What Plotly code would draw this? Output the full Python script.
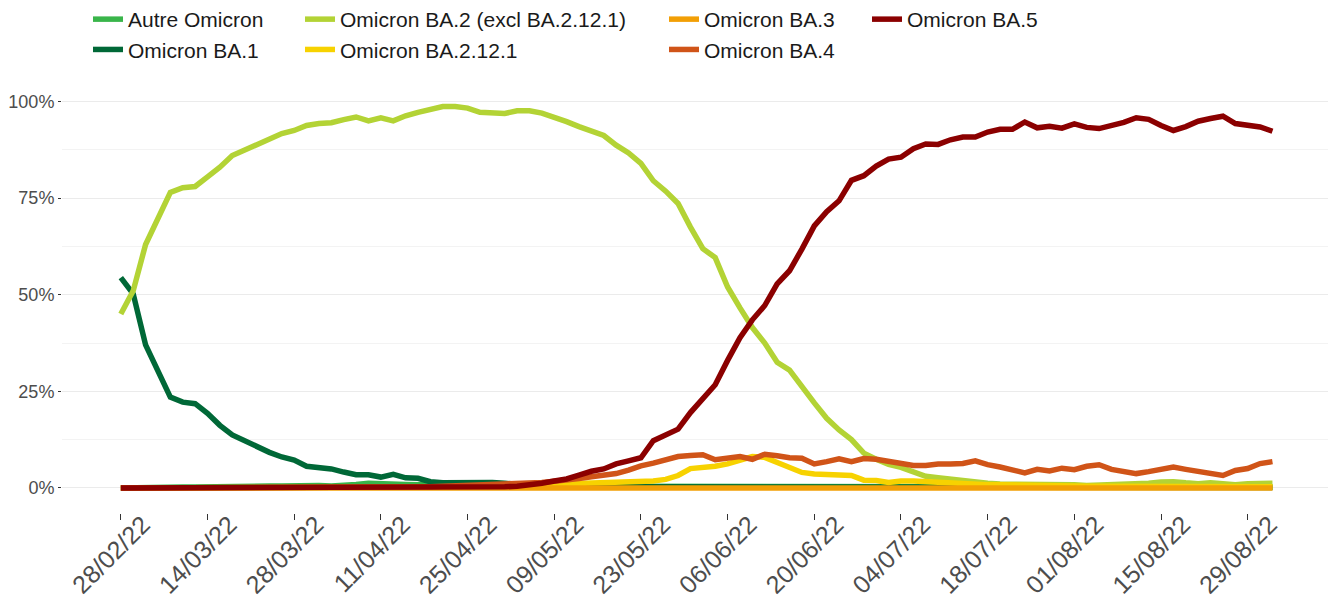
import pandas as pd
import plotly.graph_objects as go

# one value every 2 days, 28/02/22 -> 02/09/22 (share of sequences, %)
dates = pd.date_range("2022-02-28", "2022-09-02", freq="2D")

autre = [0, 0.1, 0.1, 0.1, 0.2, 0.2, 0.2, 0.3, 0.3, 0.3,
         0.4, 0.4, 0.5, 0.5, 0.6, 0.6, 0.6, 0.5, 0.6, 0.9,
         1.2, 1.2, 1.0, 0.9, 0.8, 0.7, 0.7, 0.8, 1.0, 1.0,
         0.9, 0.7, 0.6, 0.5, 0.4, 0.4, 0.4, 0.4, 0.4, 0.4,
         0.4, 0.4, 0.4, 0.4, 0.4, 0.4, 0.4, 0.4, 0.4, 0.4,
         0.4, 0.3, 0.3, 0.3, 0.3, 0.3, 0.3, 0.3, 0.3, 0.3,
         0.3, 0.3, 0.3, 0.3, 0.3, 0.3, 0.3, 0.3, 0.3, 0.3,
         0.3, 0.2, 0.2, 0.2, 0.2, 0.2, 0.2, 0.2, 0.2, 0.2,
         0.2, 0.2, 0.2, 0.2, 0.2, 0.2, 0.2, 0.2, 0.2, 0.2,
         0.2, 0.2, 0.2, 0.2]

ba1 = [54.4, 50.2, 37, 30, 23.5, 22.2, 21.8, 19.3, 16.2, 13.7,
       12.2, 10.6, 9.2, 8, 7.2, 5.6, 5.2, 4.9, 4.1, 3.4,
       3.4, 2.8, 3.5, 2.6, 2.5, 1.6, 1.3, 1.3, 1.3, 1.6,
       1.4, 1.2, 0.9, 0.7, 0.5, 0.4, 0.3, 0.3, 0.3, 0.3,
       0.3, 0.3, 0.3, 0.3, 0.3, 0.3, 0.3, 0.3, 0.3, 0.3,
       0.3, 0.3, 0.3, 0.3, 0.3, 0.3, 0.3, 0.3, 0.3, 0.3,
       0.2, 0.2, 0.2, 0.2, 0.2, 0.1, 0.1, 0.1, 0.1, 0.1,
       0.1, 0.1, 0.1, 0.1, 0.1, 0.1, 0.1, 0.1, 0.1, 0.1,
       0.1, 0.1, 0.1, 0.1, 0.1, 0.1, 0.1, 0.1, 0.1, 0.1,
       0.1, 0.1, 0.1, 0.1]

ba2 = [45, 51, 63, 70, 76.5, 77.7, 78, 80.5, 83, 86,
       87.5, 89, 90.5, 91.7, 92.5, 93.8, 94.3, 94.5, 95.3, 96,
       95, 95.8, 95, 96.3, 97.2, 97.9, 98.7, 98.7, 98.3, 97.2,
       97, 96.9, 97.6, 97.6, 97, 96, 94.8, 93.5, 92.5, 91.2,
       88.7, 86.7, 84, 79.5, 76.8, 73.6, 67.5, 61.9, 59.6, 52,
       46.6, 41.5, 37.5, 32.5, 30.5, 26, 22, 18, 15, 12.5,
       9, 7.4, 6.1, 5.3, 4.3, 3, 2.6, 2.2, 1.8, 1.5,
       1.2, 1, 1, 0.9, 0.8, 0.8, 0.7, 0.8, 0.6, 0.7,
       0.8, 0.8, 0.9, 1.2, 1.5, 1.6, 1.3, 1.1, 1.3, 1,
       0.8, 1.1, 1.3, 1.2]

ba2121 = [0, 0, 0, 0, 0, 0, 0, 0, 0, 0,
          0, 0, 0, 0, 0, 0, 0, 0, 0, 0,
          0, 0, 0, 0, 0, 0, 0, 0.1, 0.2, 0.3,
          0.4, 0.5, 0.6, 0.7, 0.9, 1.0, 1.2, 1.3, 1.4, 1.5,
          1.4, 1.8, 1.7, 1.8, 2.2, 3.2, 5.0, 5.2, 5.6, 6.2,
          7.2, 8.1, 7.9, 6.6, 5.0, 4.0, 3.6, 3.4, 3.5, 3.2,
          2.0, 1.9, 1.4, 1.8, 1.8, 1.6, 1.3, 1.2, 1.0, 0.9,
          0.8, 0.8, 0.7, 0.6, 0.6, 0.5, 0.4, 0.4, 0.4, 0.4,
          0.4, 0.3, 0.3, 0.3, 0.3, 0.3, 0.3, 0.3, 0.3, 0.3,
          0.3, 0.3, 0.3, 0.3]

ba3 = [0, 0, 0, 0, 0, 0, 0, 0, 0, 0,
       0, 0, 0, 0, 0, 0, 0, 0, 0, 0,
       0, 0, 0, 0, 0, 0, 0, 0, 0, 0,
       0, 0, 0, 0, 0, 0, 0, 0, 0, 0,
       0, 0, 0, 0, 0, 0, 0, 0, 0, 0,
       0, 0, 0, 0, 0, 0, 0, 0, 0, 0,
       0, 0, 0, 0, 0, 0, 0, 0, 0, 0,
       0, 0, 0, 0, 0, 0, 0, 0, 0, 0,
       0, 0, 0, 0, 0, 0, 0, 0, 0, 0,
       0, 0, 0, 0]

ba4 = [0, 0, 0, 0, 0, 0, 0, 0, 0, 0,
       0, 0, 0, 0, 0, 0, 0, 0, 0, 0,
       0, 0.1, 0.2, 0.2, 0.3, 0.3, 0.4, 0.5, 0.6, 0.6,
       0.7, 0.8, 0.9, 1.1, 1.4, 1.7, 1.9, 2.4, 2.9, 3.2,
       3.7, 4.6, 5.7, 6.4, 7.2, 8.1, 8.4, 8.6, 7.3, 7.6,
       8.1, 7.4, 8.7, 8.3, 7.8, 7.7, 6.2, 6.8, 7.5, 6.8,
       7.6, 7.4, 6.8, 6.5, 5.8, 5.8, 6.2, 6.2, 6.3, 7.0,
       6.0, 5.4, 4.8, 3.9, 4.8, 4.4, 5.1, 4.7, 5.6, 6.0,
       4.8, 4.3, 3.7, 4.2, 4.8, 5.4, 4.8, 4.2, 3.7, 3.2,
       4.5, 5.0, 6.3, 6.8]

ba5 = [0, 0, 0, 0, 0, 0, 0, 0, 0, 0,
       0, 0, 0, 0, 0, 0, 0, 0, 0, 0,
       0, 0, 0, 0, 0, 0, 0, 0, 0, 0.1,
       0.2, 0.3, 0.4, 0.7, 1.2, 1.8, 2.3, 3.3, 4.3, 4.9,
       6.2, 7.0, 7.8, 12.2, 13.8, 15.2, 19.5, 23.2, 26.7, 33,
       38.9, 43.5, 47.2, 52.8, 56.2, 61.8, 67.8, 71.5, 74.3, 79.6,
       80.8, 83.3, 85.1, 85.6, 87.8, 89.0, 88.9, 90.1, 90.8, 90.8,
       92.1, 92.8, 92.8, 94.7, 93.2, 93.6, 93.1, 94.2, 93.3, 93.0,
       93.8, 94.6, 95.8, 95.4, 93.8, 92.5, 93.5, 94.9, 95.6, 96.2,
       94.3, 93.8, 93.4, 92.3]

tick_dates = ["2022-02-28", "2022-03-14", "2022-03-28", "2022-04-11", "2022-04-25",
              "2022-05-09", "2022-05-23", "2022-06-06", "2022-06-20", "2022-07-04",
              "2022-07-18", "2022-08-01", "2022-08-15", "2022-08-29"]
tick_labels = ["28/02/22", "14/03/22", "28/03/22", "11/04/22", "25/04/22",
               "09/05/22", "23/05/22", "06/06/22", "20/06/22", "04/07/22",
               "18/07/22", "01/08/22", "15/08/22", "29/08/22"]
y_ticks = [0, 25, 50, 75, 100]
y_labels = ["0%", "25%", "50%", "75%", "100%"]

series = [
    ("Autre Omicron", autre, "#39B54A", "legend"),
    ("Omicron BA.1", ba1, "#006837", "legend"),
    ("Omicron BA.2 (excl BA.2.12.1)", ba2, "#B3D335", "legend2"),
    ("Omicron BA.2.12.1", ba2121, "#F7D200", "legend2"),
    ("Omicron BA.3", ba3, "#F29F05", "legend3"),
    ("Omicron BA.4", ba4, "#D05418", "legend3"),
    ("Omicron BA.5", ba5, "#8B0000", "legend4"),
]

fig = go.Figure()
for name, vals, col, leg in series:
    fig.add_trace(go.Scatter(x=dates, y=vals, name=name, mode="lines",
                             line=dict(color=col, width=5.5), legend=leg))

font = "Liberation Sans, Arial, sans-serif"
W, H = 1328, 591
L, R, T, B = 54, 6, 80, 86
plot_w = W - L - R
plot_h = H - T - B


def leg(xpx):
    # one legend column, placed in pixels above the plot area
    return dict(orientation="v", xref="paper", yref="paper",
                x=(xpx - L) / plot_w, y=1 + (T + 9) / plot_h,
                xanchor="left", yanchor="top",
                font=dict(family=font, size=21, color="#1A1A1A"),
                bgcolor="rgba(0,0,0,0)", tracegroupgap=0)


fig.update_layout(
    width=W, height=H,
    margin=dict(l=L, r=R, t=T, b=B, autoexpand=False),
    plot_bgcolor="white", paper_bgcolor="white",
    font=dict(family=font),
    legend=leg(80), legend2=leg(292), legend3=leg(656), legend4=leg(859),
    xaxis=dict(
        type="date",
        range=["2022-02-18 12:00", "2022-09-11 07:00"],
        tickvals=tick_dates, ticktext=tick_labels, tickangle=-45,
        tickfont=dict(size=25, color="#4D4D4D"),
        ticks="outside", ticklen=6, tickcolor="#333333", tickwidth=1,
        ticklabelshift=22, ticklabelstandoff=-20,
        showgrid=False, zeroline=False, showline=False,
    ),
    yaxis=dict(
        range=[-6.5, 103.5],
        tickvals=y_ticks, ticktext=y_labels,
        tickfont=dict(size=18, color="#4D4D4D"),
        ticks="outside", ticklen=3, tickcolor="#333333",
        showgrid=True, gridcolor="#EBEBEB", gridwidth=1.3,
        zeroline=False, showline=False,
        minor=dict(tickvals=[12.5, 37.5, 62.5, 87.5], showgrid=True,
                   gridcolor="#F3F3F3", gridwidth=1, ticks=""),
    ),
)

fig.write_html("out.html")
